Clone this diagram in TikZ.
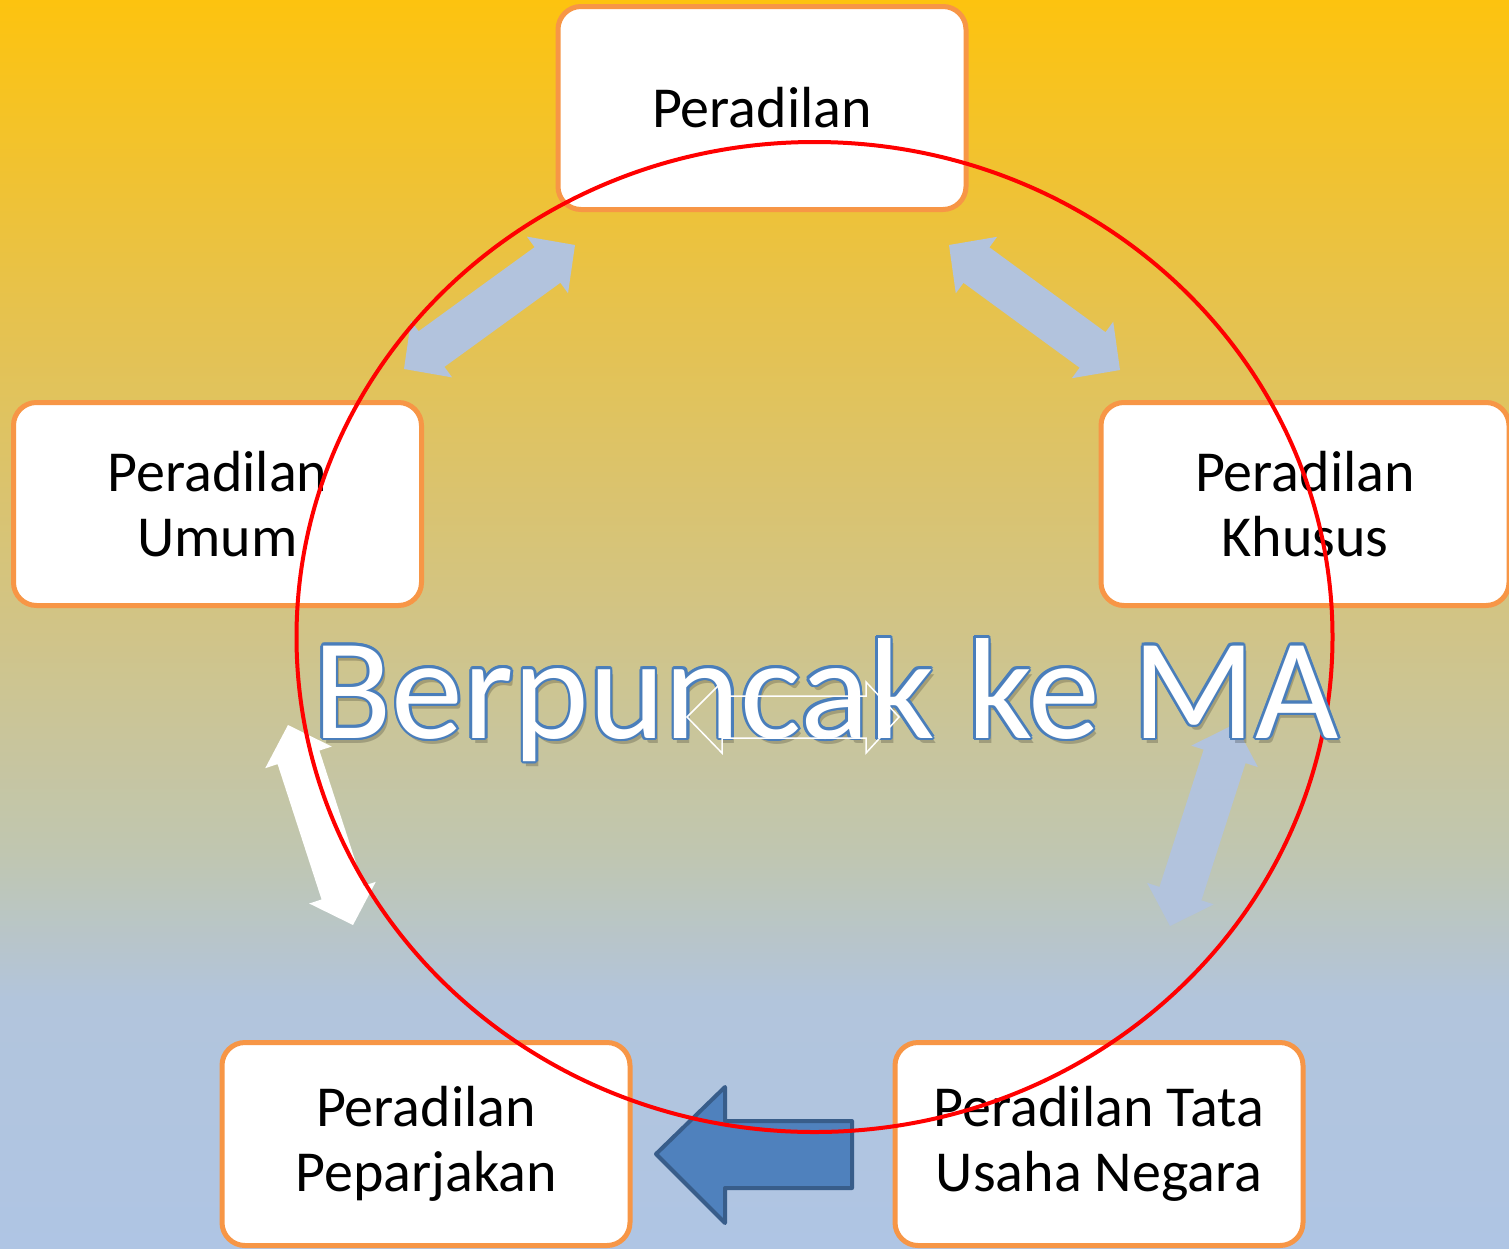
\documentclass[tikz,border=0pt]{standalone}
\usepackage{fontspec}
\setmainfont{Carlito}
\newfontfamily\calib{Carlito}
\usetikzlibrary{calc,shapes.geometric}
\definecolor{bgT}{RGB}{253,195,15}
\definecolor{bgA}{RGB}{231,194,75}
\definecolor{bgB}{RGB}{211,196,130}
\definecolor{bgC}{RGB}{192,198,176}
\definecolor{bgD}{RGB}{178,197,220}
\definecolor{bgE}{RGB}{175,197,228}
\definecolor{boxorange}{RGB}{247,150,70}
\definecolor{lightarr}{RGB}{178,195,221}
\definecolor{arrblue}{RGB}{79,129,189}
\definecolor{arrblueline}{RGB}{56,93,138}
\definecolor{txtblue}{RGB}{74,126,187}
\pgfdeclareverticalshading{bgshade}{100bp}{color(0bp)=(bgE); color(25bp)=(bgE); color(34.9bp)=(bgD); color(40.9bp)=(bgC); color(51bp)=(bgB); color(63bp)=(bgA); color(75bp)=(bgT); color(100bp)=(bgT)}
\tikzset{
  box/.style={draw=boxorange, line width=5pt, fill=white, rounded corners=23pt,
    minimum width=408pt, minimum height=203pt, inner sep=0pt, align=center,
    font=\calib\fontsize{58}{65}\selectfont, text=black},
  bigtxt/.style={inner sep=0pt, anchor=base, font=\calib\fontsize{144}{150}\selectfont},
}
\newcommand\dblarrow[3]{%
\fill[#3] (#1) -- ($(#1)!34pt!(#2)!35pt!90:(#2)$) -- ($(#1)!34pt!(#2)!22pt!90:(#2)$)
 -- ($(#2)!34pt!(#1)!22pt!-90:(#1)$) -- ($(#2)!34pt!(#1)!35pt!-90:(#1)$) -- (#2)
 -- ($(#2)!34pt!(#1)!35pt!90:(#1)$) -- ($(#2)!34pt!(#1)!22pt!90:(#1)$)
 -- ($(#1)!34pt!(#2)!22pt!-90:(#2)$) -- ($(#1)!34pt!(#2)!35pt!-90:(#2)$) -- cycle;}
\begin{document}
\begin{tikzpicture}[x=1pt,y=-1pt]
\useasboundingbox (0,0) rectangle (1509,1248);
\shade[shading=bgshade] (0,0) rectangle (1509,1248);
% boxes
\node[box] (top) at (762,108) {Peradilan};
\node[box] (umum) at (217.5,504) {Peradilan\\Umum};
\node[box] (khusus) at (1305,504) {Peradilan\\Khusus};
\node[box] (pidana) at (426,1144) {Peradilan\\Peparjakan};
\node[box] (tun) at (1099,1144) {Peradilan Tata\\Usaha Negara};
% double arrows
\coordinate (a1s) at (404,369); \coordinate (a1e) at (575,245);
\coordinate (a2s) at (949,245); \coordinate (a2e) at (1120,370);
\coordinate (a3s) at (1170,926); \coordinate (a3e) at (1235,724);
\coordinate (a4s) at (353,925); \coordinate (a4e) at (288,725);
\dblarrow{a1s}{a1e}{lightarr}
\dblarrow{a2s}{a2e}{lightarr}
\dblarrow{a3s}{a3e}{lightarr}
\dblarrow{a4s}{a4e}{white}
% blue left arrow
\draw[fill=arrblue, draw=arrblueline, line width=4pt, line join=round]
  (852,1121) -- (725,1121) -- (725,1087) -- (656,1154) -- (725,1223) -- (725,1188) -- (852,1188) -- cycle;
% red circle
\node[ellipse, draw=red, line width=4pt, minimum width=1036pt, minimum height=990pt, inner sep=0pt] (ring) at (814.5,637) {};
% big text
\coordinate (bt) at (826,738);
\node[bigtxt, text=black, opacity=0.2] (shadowA) at ($(bt)+(3,5)$) {Berpuncak ke MA};
\foreach \ang in {0,30,...,330}{
  \node[bigtxt, text=txtblue] (o\ang) at ($(bt)+(\ang:2.6)$) {Berpuncak ke MA};
}
\node[bigtxt, text=white] (title) at (bt) {Berpuncak ke MA};
% outline double arrow
\draw[white, line width=1.5pt, line join=miter]
  (687,717) -- (722,682) -- (722,696) -- (866,696) -- (866,682) -- (899,717)
  -- (866,753) -- (866,738) -- (722,738) -- (722,753) -- cycle;
\end{tikzpicture}
\end{document}
